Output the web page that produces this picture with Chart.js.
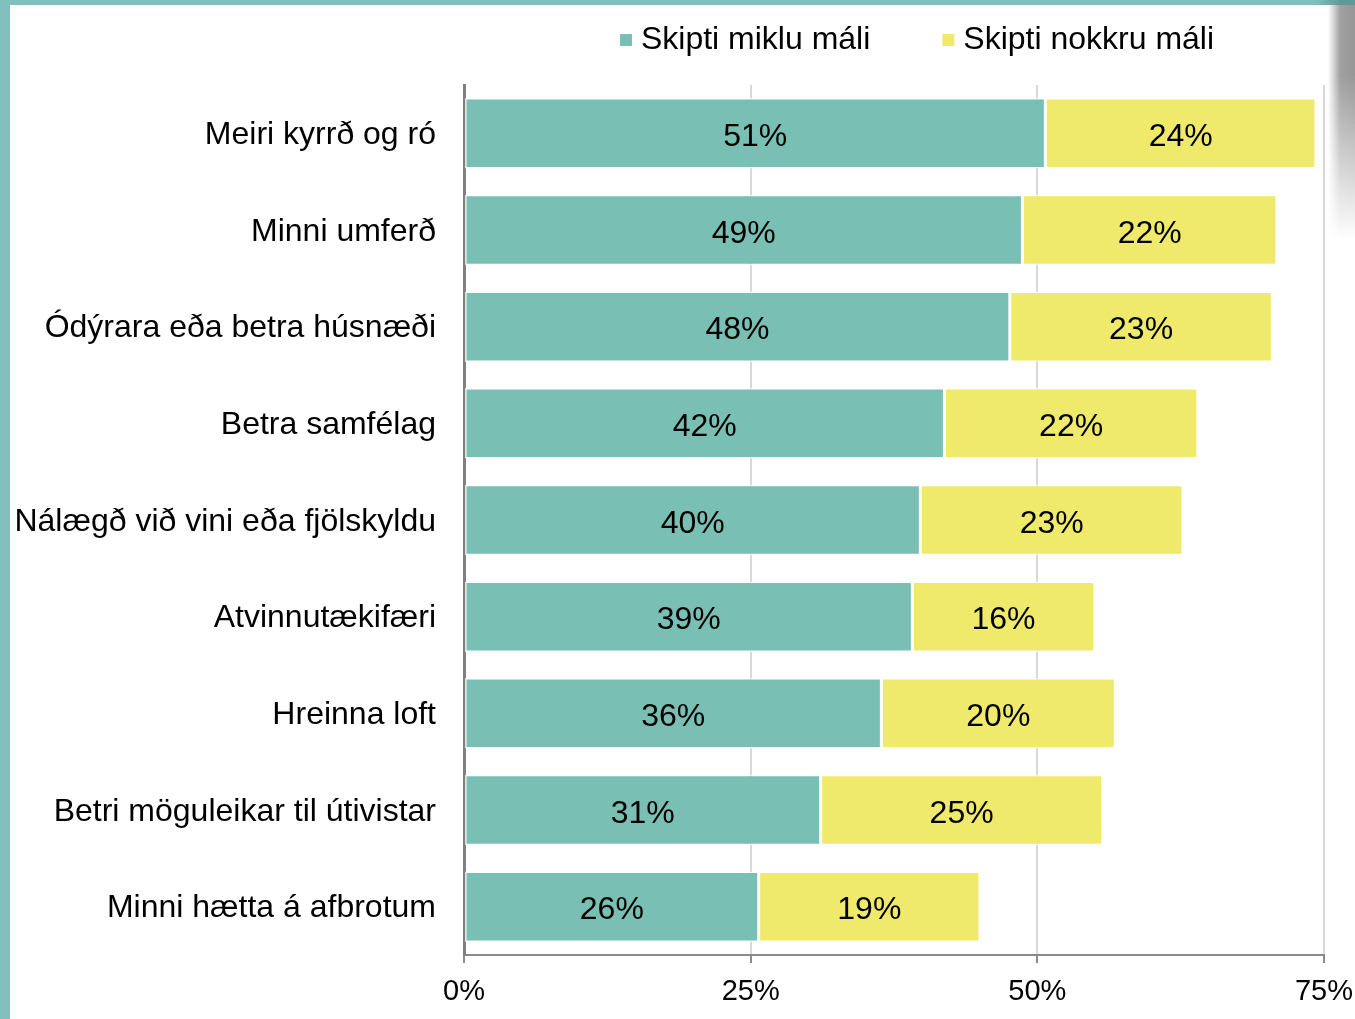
<!DOCTYPE html>
<html>
<head>
<meta charset="utf-8">
<script src="https://cdn.jsdelivr.net/npm/chart.js@4.4.1/dist/chart.umd.min.js"></script>
<style>
    html, body { margin:0; padding:0; background:#fff; }
    body { width:1355px; height:1019px; position:relative; overflow:hidden; }
    #rammi-vinstri { position:absolute; left:0; top:0; width:10px; height:1019px; background:#82c0c0; }
    #rammi-efri { position:absolute; left:0; top:0; width:1355px; height:5px; background:linear-gradient(to right, #82c0c0 97%, #5f9898 99%); }
    #skuggi { position:absolute; right:0; top:5px; width:27px; height:235px;
        background:linear-gradient(to right, rgba(120,120,120,0) 0%, rgba(120,120,120,0.7) 45%, rgba(140,140,140,0.9) 100%);
        -webkit-mask-image:linear-gradient(to bottom, #000 30%, rgba(0,0,0,0) 100%); }
    #kassi { position:absolute; left:10px; top:5px; width:1355px; height:1014px; }
</style>
</head>
<body>
<div id="rammi-vinstri"></div>
<div id="rammi-efri"></div>
<div id="kassi"><canvas id="grafica"></canvas></div>
<div id="skuggi"></div>
<script>
const flokkar = [
    'Meiri kyrrð og ró',
    'Minni umferð',
    'Ódýrara eða betra húsnæði',
    'Betra samfélag',
    'Nálægð við vini eða fjölskyldu',
    'Atvinnutækifæri',
    'Hreinna loft',
    'Betri möguleikar til útivistar',
    'Minni hætta á afbrotum'
];
const miklu = [50.7, 48.7, 47.6, 41.9, 39.8, 39.1, 36.4, 31.1, 25.7];
const nokkru = [23.6, 22.2, 22.9, 22.1, 22.9, 15.9, 20.4, 24.6, 19.3];
const merkingar = ['Skipti miklu máli', 'Skipti nokkru máli'];
const litir = ['rgb(121, 191, 180)', 'rgb(240, 234, 108)'];
const asTikk = [0, 25, 50, 75];

const letur = "'Liberation Sans', Arial, sans-serif";

// gildin inni í súlunum
const talnaMerki = {
    id: 'talnaMerki',
    afterDatasetsDraw(chart){
        const ctx = chart.ctx;
        ctx.save();
        ctx.font = '32px ' + letur;
        ctx.fillStyle = '#000';
        ctx.textAlign = 'center';
        ctx.textBaseline = 'middle';
        chart.data.datasets.forEach(function(ds, i){
            chart.getDatasetMeta(i).data.forEach(function(bar, j){
                const p = bar.getProps(['x', 'y', 'base'], true);
                ctx.fillText(Math.round(ds.data[j]) + '%', (p.x + p.base) / 2, p.y + 4);
            });
        });
        ctx.restore();
    }
};

// skýringar efst
const skyring = {
    id: 'skyring',
    afterDraw(chart){
        const ctx = chart.ctx;
        ctx.save();
        ctx.font = '32px ' + letur;
        ctx.textBaseline = 'middle';
        var box = 12, bil = 9, milli = 72;
        var breidd = 0;
        var vidd = chart.data.datasets.map(function(ds){ return ctx.measureText(ds.label).width; });
        vidd.forEach(function(w, i){ breidd += box + bil + w + (i > 0 ? milli : 0); });
        var x = 907 - breidd / 2;
        var y = 35;
        chart.data.datasets.forEach(function(ds, i){
            ctx.fillStyle = ds.backgroundColor;
            ctx.fillRect(x, y - box / 2, box, box);
            ctx.fillStyle = '#000';
            ctx.fillText(ds.label, x + box + bil, y);
            x += box + bil + vidd[i] + milli;
        });
        ctx.restore();
    }
};

var ctx = document.getElementById('grafica').getContext('2d');
var myChart = new Chart(ctx, {
    type: 'bar',
    data: {
        labels: flokkar,
        datasets: [{
            label: merkingar[0],
            data: miklu,
            backgroundColor: litir[0],
            borderColor: 'rgba(255,255,255,0.75)',
            borderWidth: 1.5,
            borderSkipped: false
        }, {
            label: merkingar[1],
            data: nokkru,
            backgroundColor: litir[1],
            borderColor: 'rgba(255,255,255,0.75)',
            borderWidth: 1.5,
            borderSkipped: false
        }]
    },
    options: {
        indexAxis: 'y',
        responsive: true,
        maintainAspectRatio: false,
        animation: false,
        categoryPercentage: 0.73,
        barPercentage: 1,
        layout: {
            padding: { top: 80, right: 0, left: 0, bottom: 0 }
        },
        scales: {
            x: {
                stacked: true,
                min: 0,
                max: 75,
                afterBuildTicks: function(scale){
                    scale.ticks = asTikk.map(function(v){ return { value: v }; });
                },
                afterFit: function(scale){ scale.height = 64; },
                grid: {
                    color: '#d9d9d9',
                    lineWidth: 2,
                    tickColor: '#8a8a8a',
                    tickLength: 8
                },
                border: { color: '#8a8a8a', width: 2 },
                ticks: {
                    padding: 12,
                    color: '#000',
                    font: { family: letur, size: 29 },
                    callback: function(value){
                        return value + '%';
                    }
                }
            },
            y: {
                stacked: true,
                afterFit: function(scale){ scale.width = 454; },
                grid: { display: false, drawTicks: false },
                border: { color: '#808080', width: 3 },
                ticks: {
                    padding: 28,
                    labelOffset: 2,
                    color: '#000',
                    font: { family: letur, size: 32 }
                }
            }
        },
        plugins: {
            legend: { display: false },
            title: { display: false },
            tooltip: { enabled: false }
        }
    },
    plugins: [talnaMerki, skyring]
});
</script>
</body>
</html>
